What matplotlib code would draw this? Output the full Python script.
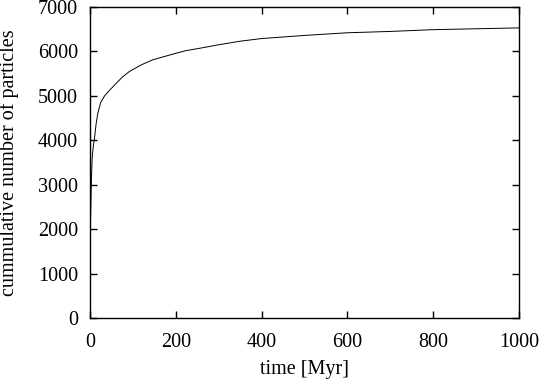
import matplotlib
matplotlib.use("Agg")
import matplotlib.pyplot as plt

time_myr = [1, 3, 5, 8, 10, 14, 18, 25, 34, 45, 60, 75, 92, 120, 146, 175,
            201, 225, 255, 300, 350, 400, 500, 600, 700, 800, 900, 1000]
cum_particles = [2100, 3000, 3600, 3900, 4000, 4350, 4600, 4850, 5000, 5120,
                 5270, 5420, 5550, 5700, 5810, 5890, 5960, 6020, 6070, 6150,
                 6230, 6290, 6360, 6420, 6450, 6490, 6510, 6530]
xticks = [0, 200, 400, 600, 800, 1000]
yticks = [0, 1000, 2000, 3000, 4000, 5000, 6000, 7000]

plt.rcParams['font.family'] = ['Liberation Serif', 'DejaVu Serif']
plt.rcParams['font.size'] = 14.5

fig = plt.figure(figsize=(5.39, 3.81), dpi=100)
ax = fig.add_axes([90 / 539, 1 - 318 / 381, (519 - 90) / 539, (318 - 7) / 381])
ax.plot(time_myr, cum_particles, color='black', linewidth=0.7)
ax.set_xlim(0, 1000)
ax.set_ylim(0, 7000)
ax.set_xticks(xticks)
ax.set_yticks(yticks)
ax.tick_params(direction='in', length=5, width=1, top=True, right=True)
ax.tick_params(axis='x', pad=10.5)
ax.tick_params(axis='y', pad=8.5)
for s in ax.spines.values():
    s.set_linewidth(1)
ax.set_xlabel('time [Myr]')
ax.set_ylabel('cummulative number of particles')
ax.xaxis.set_label_coords(0.5, -0.135)
ax.yaxis.set_label_coords(-0.1655, 0.5)
fig.savefig('out.png', dpi=100)
